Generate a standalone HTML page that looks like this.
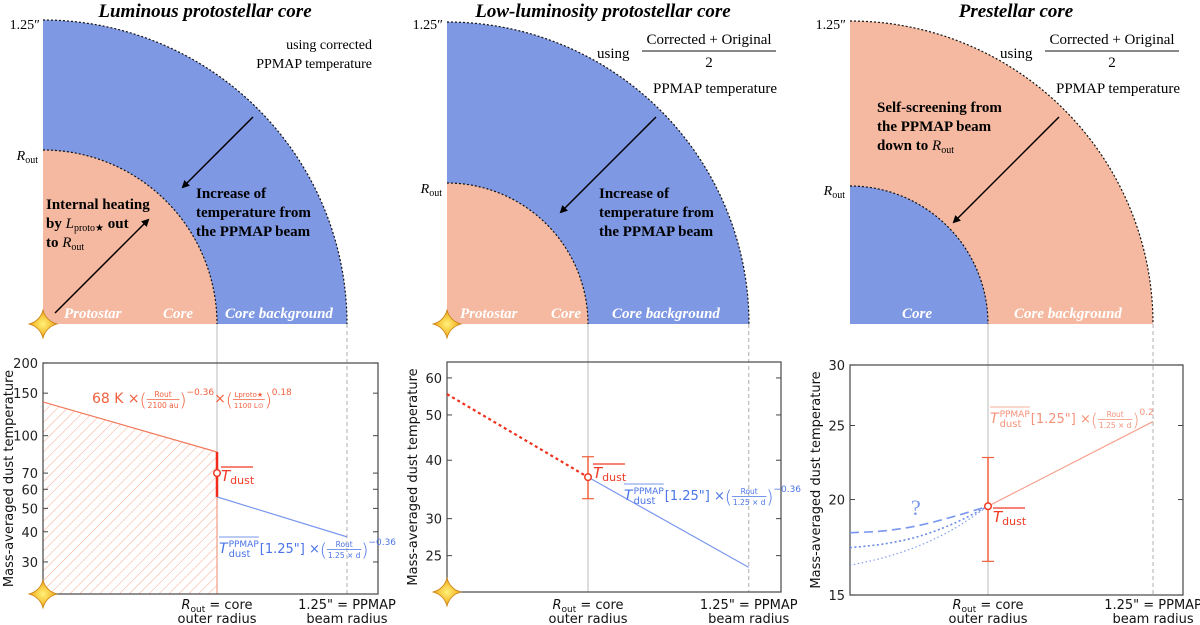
<!DOCTYPE html>
<html><head><meta charset="utf-8"><style>
html,body{margin:0;padding:0;background:#fff;}
svg{display:block;}
.ser{font-family:"Liberation Serif",serif;}
.san{font-family:"DejaVu Sans","Liberation Sans",sans-serif;}
</style></head><body>
<svg id="fig" width="1200" height="625" viewBox="0 0 1200 625" xmlns="http://www.w3.org/2000/svg">
<defs>
<radialGradient id="starg" cx="50%" cy="50%" r="50%"><stop offset="0" stop-color="#fff27a"/><stop offset="0.6" stop-color="#f7c43a"/><stop offset="1" stop-color="#e39a1c"/></radialGradient>
<pattern id="hatch" width="7" height="7" patternUnits="userSpaceOnUse" patternTransform="rotate(45)"><line x1="0" y1="0" x2="0" y2="7" stroke="#f7a98e" stroke-width="1"/></pattern>
<marker id="ah" markerWidth="8" markerHeight="8" refX="6" refY="4" orient="auto" markerUnits="userSpaceOnUse"><path d="M0,0 L8,4 L0,8 z" fill="#000"/></marker>
</defs>

<g>
<text class="ser" x="205" y="17" text-anchor="middle" font-size="19" font-weight="bold" font-style="italic">Luminous protostellar core</text>
<path d="M43,324 L43,20 A304,304 0 0 1 347,324 Z" fill="#7f98e3"/>
<path d="M43,20 A304,304 0 0 1 347,324" fill="none" stroke="#111" stroke-width="1.2" stroke-dasharray="2,2"/>
<path d="M43,324 L43,150 A174,174 0 0 1 217,324 Z" fill="#f4b9a0"/>
<path d="M43,150 A174,174 0 0 1 217,324" fill="none" stroke="#111" stroke-width="1.2" stroke-dasharray="2,2"/>
<text class="ser" x="40" y="29" text-anchor="end" font-size="14">1.25″</text>
<text class="ser" x="38" y="160" text-anchor="end" font-size="14"><tspan font-style="italic">R</tspan><tspan font-size="10" dy="3">out</tspan></text>
<text class="ser" x="372" y="49" text-anchor="end" font-size="14">using corrected</text>
<text class="ser" x="372" y="68" text-anchor="end" font-size="14">PPMAP temperature</text>
<line x1="253" y1="117" x2="183" y2="187" stroke="#000" stroke-width="1.5" marker-end="url(#ah)"/>
<text class="ser" font-size="15" font-weight="bold"><tspan x="196" y="198">Increase of</tspan><tspan x="196" y="217">temperature from</tspan><tspan x="196" y="236">the PPMAP beam</tspan></text>
<text class="ser" font-size="15" font-weight="bold"><tspan x="46" y="209">Internal heating</tspan><tspan x="46" y="228">by </tspan><tspan font-style="italic" font-weight="normal">L</tspan><tspan font-size="10" font-weight="normal" dy="3">proto★</tspan><tspan dy="-3"> out</tspan><tspan x="46" y="247">to </tspan><tspan font-style="italic" font-weight="normal">R</tspan><tspan font-size="10" font-weight="normal" dy="3">out</tspan></text>
<line x1="55" y1="313" x2="148" y2="220" stroke="#000" stroke-width="1.5" marker-end="url(#ah)"/>
<text class="ser" font-size="15" font-weight="bold" font-style="italic" fill="#fff"><tspan x="64" y="318">Protostar</tspan><tspan x="163" y="318">Core</tspan><tspan x="225" y="318">Core background</tspan></text>
</g>

<g>
<text class="ser" x="603" y="17" text-anchor="middle" font-size="19" font-weight="bold" font-style="italic">Low-luminosity protostellar core</text>
<path d="M447,324 L447,22 A302,302 0 0 1 749,324 Z" fill="#7f98e3"/>
<path d="M447,22 A302,302 0 0 1 749,324" fill="none" stroke="#111" stroke-width="1.2" stroke-dasharray="2,2"/>
<path d="M447,324 L447,183 A141,141 0 0 1 588,324 Z" fill="#f4b9a0"/>
<path d="M447,183 A141,141 0 0 1 588,324" fill="none" stroke="#111" stroke-width="1.2" stroke-dasharray="2,2"/>
<text class="ser" x="443" y="29" text-anchor="end" font-size="14">1.25″</text>
<text class="ser" x="442" y="193" text-anchor="end" font-size="14"><tspan font-style="italic">R</tspan><tspan font-size="10" dy="3">out</tspan></text>
<text class="ser" x="597" y="58" font-size="15">using</text>
<text class="ser" x="709" y="44" text-anchor="middle" font-size="15">Corrected + Original</text>
<line x1="642" y1="51" x2="776" y2="51" stroke="#111" stroke-width="1"/>
<text class="ser" x="709" y="67" text-anchor="middle" font-size="15">2</text>
<text class="ser" x="777" y="93" text-anchor="end" font-size="15">PPMAP temperature</text>
<line x1="656" y1="117" x2="561" y2="212" stroke="#000" stroke-width="1.5" marker-end="url(#ah)"/>
<text class="ser" font-size="15" font-weight="bold"><tspan x="599" y="198">Increase of</tspan><tspan x="599" y="217">temperature from</tspan><tspan x="599" y="236">the PPMAP beam</tspan></text>
<text class="ser" font-size="15" font-weight="bold" font-style="italic" fill="#fff"><tspan x="460" y="318">Protostar</tspan><tspan x="551" y="318">Core</tspan><tspan x="612" y="318">Core background</tspan></text>
</g>

<g>
<text class="ser" x="1016" y="17" text-anchor="middle" font-size="19" font-weight="bold" font-style="italic">Prestellar core</text>
<path d="M850,324 L850,21 A303,303 0 0 1 1153,324 Z" fill="#f4b9a0"/>
<path d="M850,21 A303,303 0 0 1 1153,324" fill="none" stroke="#111" stroke-width="1.2" stroke-dasharray="2,2"/>
<path d="M850,324 L850,186 A138,138 0 0 1 988,324 Z" fill="#7f98e3"/>
<path d="M850,186 A138,138 0 0 1 988,324" fill="none" stroke="#111" stroke-width="1.2" stroke-dasharray="2,2"/>
<text class="ser" x="846" y="29" text-anchor="end" font-size="14">1.25″</text>
<text class="ser" x="845" y="195" text-anchor="end" font-size="14"><tspan font-style="italic">R</tspan><tspan font-size="10" dy="3">out</tspan></text>
<text class="ser" x="1000" y="58" font-size="15">using</text>
<text class="ser" x="1112" y="44" text-anchor="middle" font-size="15">Corrected + Original</text>
<line x1="1045" y1="51" x2="1179" y2="51" stroke="#111" stroke-width="1"/>
<text class="ser" x="1112" y="67" text-anchor="middle" font-size="15">2</text>
<text class="ser" x="1180" y="93" text-anchor="end" font-size="15">PPMAP temperature</text>
<text class="ser" font-size="15" font-weight="bold"><tspan x="877" y="112">Self-screening  from</tspan><tspan x="877" y="131">the PPMAP beam</tspan><tspan x="877" y="150">down to </tspan><tspan font-style="italic" font-weight="normal">R</tspan><tspan font-size="10" font-weight="normal" dy="3">out</tspan></text>
<line x1="1059" y1="117" x2="954" y2="222" stroke="#000" stroke-width="1.5" marker-end="url(#ah)"/>
<text class="ser" font-size="15" font-weight="bold" font-style="italic" fill="#fff"><tspan x="902" y="318">Core</tspan><tspan x="1014" y="318">Core background</tspan></text>
</g>

<g id="charts"></g>
</svg>
<script>
// ---------- data ----------
const p1Ticks = [30, 40, 50, 60, 70, 100, 150, 200];
const p1RedX = [0, 1];
const p1RedT = [138, 85.6];
const p1BlueX = [1, 1.747];
const p1BlueT = [55.8, 38.1];
const p1Vert = [55.8, 85.6];
const p1Tdust = [70];

const p2Ticks = [25, 30, 40, 50, 60];
const p2RedX = [0, 1];
const p2RedT = [55.4, 36.8];
const p2BlueX = [1, 2.14];
const p2BlueT = [36.8, 23.6];
const p2Err = [33.1, 40.7];
const p2Tdust = [36.8];

const p3Ticks = [15, 20, 25, 30];
const p3PinkX = [1, 2.196];
const p3PinkT = [19.6, 25.3];
const p3Err = [16.6, 22.7];
const p3Tdust = [19.6];
const p3CurveX = [0, 0.25, 0.5, 0.75, 1];
const p3Dashed = [18.1, 18.2, 18.5, 19.0, 19.6];
const p3Dotted1 = [17.3, 17.5, 17.9, 18.6, 19.6];
const p3Dotted2 = [16.4, 16.8, 17.4, 18.3, 19.6];

// ---------- helpers ----------
const NS = "http://www.w3.org/2000/svg";
const root = document.getElementById("charts");
function mk(tag, attrs, parent) {
  const e = document.createElementNS(NS, tag);
  for (const k in attrs) e.setAttribute(k, attrs[k]);
  (parent || root).appendChild(e);
  return e;
}
function makeAxes(box, tmin, tmax, x0, unit) {
  const [L, T, R, B] = box;
  const y = v => B - (Math.log(v) - Math.log(tmin)) / (Math.log(tmax) - Math.log(tmin)) * (B - T);
  const x = v => x0 + v * unit;
  return {x, y, L, T, R, B};
}
function frame(ax, ticks, name) {
  const g = mk("g", {});
  
  
  const r = mk("rect", {x: ax.L, y: ax.T, width: ax.R - ax.L, height: ax.B - ax.T, fill: "none", stroke: "#555", "stroke-width": 1.3}, g);
  
  
  ticks.forEach(t => {
    const yy = ax.y(t);
    mk("line", {x1: ax.L, x2: ax.L + 5, y1: yy, y2: yy, stroke: "#444"}, g);
    mk("line", {x1: ax.R, x2: ax.R - 5, y1: yy, y2: yy, stroke: "#444"}, g);
    const tx = mk("text", {x: ax.L - 5, y: yy + 5, "text-anchor": "end", "font-size": 13, class: "san", fill: "#222"}, g);
    tx.textContent = t;
    
    
  });
  const cy = (ax.T + ax.B) / 2;
  const lab = mk("text", {x: 0, y: 0, transform: `translate(${ax.L - 30},${cy}) rotate(-90)`, "text-anchor": "middle", "font-size": 13, class: "san", fill: "#111"}, g);
  lab.textContent = "Mass-averaged dust temperature";
  
  
  return g;
}
function xlabels(ax, xr, xb) {
  const a = mk("text", {x: ax.x(xr), y: 609, "text-anchor": "middle", "font-size": 13, class: "san", fill: "#111"});
  a.innerHTML = '<tspan font-style="italic">R</tspan><tspan font-size="9" dy="3">out</tspan><tspan dy="-3"> =  core</tspan>';
  
  
  const a2 = mk("text", {x: ax.x(xr), y: 623, "text-anchor": "middle", "font-size": 13, class: "san", fill: "#111"});
  a2.textContent = "outer radius";
  const b = mk("text", {x: ax.x(xb), y: 609, "text-anchor": "middle", "font-size": 13, class: "san", fill: "#111"});
  b.textContent = '1.25" = PPMAP';
  
  
  const b2 = mk("text", {x: ax.x(xb), y: 623, "text-anchor": "middle", "font-size": 13, class: "san", fill: "#111"});
  b2.textContent = "beam radius";
}
function guides(ax, xr, xb) {
  mk("line", {x1: ax.x(xr), x2: ax.x(xr), y1: 324, y2: ax.B, stroke: "#bbb", "stroke-width": 1});
  mk("line", {x1: ax.x(xb), x2: ax.x(xb), y1: 324, y2: ax.B, stroke: "#bbb", "stroke-width": 1.2, "stroke-dasharray": "4,3"});
}
function line(ax, xs, ts, attrs, name) {
  const pts = xs.map((v, i) => ax.x(v) + "," + ax.y(ts[i])).join(" ");
  const e = mk("polyline", Object.assign({points: pts, fill: "none"}, attrs));
  
  
  return e;
}
function smooth(ax, xs, ts, attrs, name) {
  const P = xs.map((v, i) => [ax.x(v), ax.y(ts[i])]);
  let d = `M${P[0][0]},${P[0][1]}`;
  for (let i = 0; i < P.length - 1; i++) {
    const p0 = P[Math.max(0, i - 1)], p1 = P[i], p2 = P[i + 1], p3 = P[Math.min(P.length - 1, i + 2)];
    const c1 = [p1[0] + (p2[0] - p0[0]) / 6, p1[1] + (p2[1] - p0[1]) / 6];
    const c2 = [p2[0] - (p3[0] - p1[0]) / 6, p2[1] - (p3[1] - p1[1]) / 6];
    d += ` C${c1[0]},${c1[1]} ${c2[0]},${c2[1]} ${p2[0]},${p2[1]}`;
  }
  const e = mk("path", Object.assign({d, fill: "none"}, attrs));
  
  
}
function errbar(ax, xv, lo, hi, color) {
  const xx = ax.x(xv);
  const e = mk("line", {x1: xx, x2: xx, y1: ax.y(lo), y2: ax.y(hi), stroke: color, "stroke-width": 1.5});
  
  
  mk("line", {x1: xx - 6, x2: xx + 6, y1: ax.y(lo), y2: ax.y(lo), stroke: color, "stroke-width": 1.2});
  mk("line", {x1: xx - 6, x2: xx + 6, y1: ax.y(hi), y2: ax.y(hi), stroke: color, "stroke-width": 1.2});
}
function marker(ax, xv, t) {
  const m = mk("circle", {cx: ax.x(xv), cy: ax.y(t), r: 3.3, fill: "#fff", stroke: "#f03a24", "stroke-width": 1.5});
  
  
}
function tdustLabel(x, y) {
  const t = mk("text", {x: x, y: y, "font-size": 15, class: "san", fill: "#f03a24"});
  t.innerHTML = '<tspan font-style="italic">T</tspan><tspan font-size="11" dy="3">dust</tspan>';
  
  
  mk("line", {x1: x, x2: x + 32, y1: y - 14, y2: y - 14, stroke: "#f03a24", "stroke-width": 1.2});
}
function W(el) { return el.getComputedTextLength ? el.getComputedTextLength() : 0; }
function txt(g, x, y, s, fs, extra) {
  const t = mk("text", Object.assign({x: x, y: y, "font-size": fs}, extra || {}), g);
  t.textContent = s;
  return t;
}
function frac(g, x, y, num, den, color, fs) {
  const a = txt(g, 0, y - 4, num, fs, {"text-anchor": "middle"});
  const b = txt(g, 0, y + 7, den, fs, {"text-anchor": "middle"});
  const w = Math.max(W(a), W(b)) + 2;
  a.setAttribute("x", x + w / 2); b.setAttribute("x", x + w / 2);
  mk("line", {x1: x, x2: x + w, y1: y - 1.5, y2: y - 1.5, stroke: color, "stroke-width": 0.7}, g);
  return x + w;
}
function paren(g, x, y, s, color) {
  const t = txt(g, x, y + 3, s, 18, {"font-weight": "200"});
  return x + W(t);
}
function tppmap(g, x, y) {
  const T = txt(g, x, y, "T", 14, {"font-style": "italic"});
  let cx = x + W(T) + 1;
  const sup = txt(g, cx, y - 6, "PPMAP", 9);
  const sub = txt(g, cx, y + 4, "dust", 10);
  const w = Math.max(W(sup), W(sub));
  return {end: cx + w + 1, w: cx + w - x};
}
function ppmapFormula(x, y, color, exp) {
  const g = mk("g", {fill: color, class: "san"});
  
  
  const tp = tppmap(g, x, y);
  mk("line", {x1: x, x2: x + tp.w, y1: y - 16, y2: y - 16, stroke: color, "stroke-width": 0.8}, g);
  const b = txt(g, tp.end, y, '[1.25"] × ', 13);
  let cx = tp.end + W(b);
  cx = paren(g, cx, y, "(", color);
  cx = frac(g, cx, y - 2, "Rout", "1.25 × d", color, 7.5);
  cx = paren(g, cx, y, ")", color);
  txt(g, cx, y - 8, exp, 9);
}
function star(cx, cy, r) {
  const s = mk("path", {d: `M${cx},${cy - r} Q${cx + 3},${cy - 3} ${cx + r},${cy} Q${cx + 3},${cy + 3} ${cx},${cy + r} Q${cx - 3},${cy + 3} ${cx - r},${cy} Q${cx - 3},${cy - 3} ${cx},${cy - r} Z`, fill: "url(#starg)", stroke: "#c98214", "stroke-width": 0.8});
  
  
}

// ---------- Panel 1 chart ----------
const ax1 = makeAxes([43, 363, 378, 594], 22.1, 200, 43, 174);
guides(ax1, 1, 1.747);
{
  const pts = [[ax1.x(p1RedX[0]), ax1.B]].concat(p1RedX.map((v, i) => [ax1.x(v), ax1.y(p1RedT[i])])).concat([[ax1.x(p1RedX[p1RedX.length - 1]), ax1.B]]);
  const h = mk("polygon", {points: pts.map(p => p.join(",")).join(" "), fill: "url(#hatch)"});
  
  
  mk("line", {x1: ax1.x(1), x2: ax1.x(1), y1: ax1.y(p1RedT[1]), y2: ax1.B, stroke: "#f28a6c", "stroke-width": 1});
}
frame(ax1, p1Ticks, "panel1-axes");
line(ax1, p1RedX, p1RedT, {stroke: "#f27a5c", "stroke-width": 1.2}, "internal-heating-line");
line(ax1, p1BlueX, p1BlueT, {stroke: "#7a97ef", "stroke-width": 1.2}, "ppmap-extrapolation-line");
line(ax1, [1, 1], p1Vert, {stroke: "#f22a1a", "stroke-width": 2.5}, "tdust-range");
marker(ax1, 1, p1Tdust[0]);
tdustLabel(221, 481);
ppmapFormula(219, 553, "#4a74e8", "−0.36");
{
  const col = "#f2603e";
  const g = mk("g", {fill: col, class: "san"});
  
  
  const y = 403;
  const a = txt(g, 92, y, "68 K × ", 14);
  let cx = 92 + W(a);
  cx = paren(g, cx, y, "(", col);
  cx = frac(g, cx, y - 2, "Rout", "2100 au", col, 7.5);
  cx = paren(g, cx, y, ")", col);
  const e1 = txt(g, cx, y - 8, "−0.36", 9); cx += W(e1);
  const m = txt(g, cx, y, " × ", 14); cx += W(m);
  cx = paren(g, cx, y, "(", col);
  cx = frac(g, cx, y - 2, "Lproto★", "1100 L⊙", col, 7);
  cx = paren(g, cx, y, ")", col);
  txt(g, cx, y - 8, "0.18", 9);
}
xlabels(ax1, 1, 1.747);
star(43, 594, 14);
star(43, 324, 14);

// ---------- Panel 2 chart ----------
const ax2 = makeAxes([447, 362, 781, 592], 20.9, 64.9, 447, 141);
guides(ax2, 1, 2.14);
frame(ax2, p2Ticks, "panel2-axes");
line(ax2, p2RedX, p2RedT, {stroke: "#f0301c", "stroke-width": 2.2, "stroke-dasharray": "3,3"}, "red-extrapolation-dotted");
line(ax2, p2BlueX, p2BlueT, {stroke: "#7a97ef", "stroke-width": 1.2}, "ppmap-extrapolation-line");
errbar(ax2, 1, p2Err[0], p2Err[1], "#f0603c");
marker(ax2, 1, p2Tdust[0]);
tdustLabel(593, 478);
ppmapFormula(624, 500, "#4a74e8", "−0.36");
xlabels(ax2, 1, 2.14);
star(447, 592, 14);
star(447, 324, 14);

// ---------- Panel 3 chart ----------
const ax3 = makeAxes([850, 365, 1183, 595], 15, 30, 850, 138);
guides(ax3, 1, 2.196);
frame(ax3, p3Ticks, "panel3-axes");
line(ax3, p3PinkX, p3PinkT, {stroke: "#f5a08c", "stroke-width": 1.2}, "ppmap-extrapolation-line");
smooth(ax3, p3CurveX, p3Dashed, {stroke: "#7a97ef", "stroke-width": 1.6, "stroke-dasharray": "9,5"}, "profile-dashed");
smooth(ax3, p3CurveX, p3Dotted1, {stroke: "#6d8be8", "stroke-width": 1.6, "stroke-dasharray": "2,2.5"}, "profile-dotted-1");
smooth(ax3, p3CurveX, p3Dotted2, {stroke: "#7a97ef", "stroke-width": 1.1, "stroke-dasharray": "1.5,2.5"}, "profile-dotted-2");
errbar(ax3, 1, p3Err[0], p3Err[1], "#f0603c");
marker(ax3, 1, p3Tdust[0]);
tdustLabel(993, 522);
{
  const q = mk("text", {x: 911, y: 515, "font-size": 22, class: "ser", fill: "#7a97ef"});
  q.textContent = "?";
  
  
}
ppmapFormula(990, 423, "#f5927a", "0.2");
xlabels(ax3, 1, 2.196);
</script>
</body></html>
